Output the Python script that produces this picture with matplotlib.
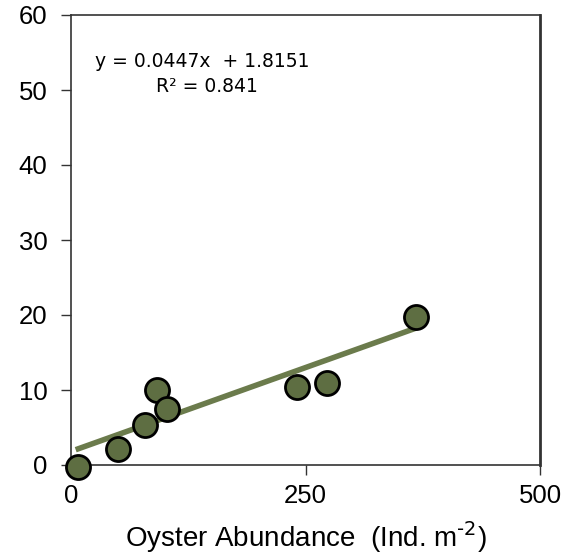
import matplotlib.pyplot as plt
import numpy as np

plt.rcParams['font.family'] = ['Liberation Sans', 'DejaVu Sans']
plt.rcParams['font.size'] = 18.5

# oyster abundance vs response
abundance = [7, 50, 79, 92, 102, 241, 273, 368]
values = [-0.3, 2.1, 5.4, 10.0, 7.5, 10.4, 11.0, 19.8]
slope = 0.0447
intercept = 1.8151
r2 = 0.841

fig = plt.figure(figsize=(5.7, 5.6), dpi=100)
ax = fig.add_axes([71/570, 1-465/560, (540-71)/570, (465-15)/560])

# trend line over the data range
x_fit = np.array([min(abundance) - 2, max(abundance)])
ax.plot(x_fit, slope*x_fit + intercept, color='#6b7b4c', linewidth=4, solid_capstyle='butt', zorder=2)
ax.scatter(abundance, values, s=300, facecolor='#5e6e42', edgecolor='black', linewidth=2, zorder=3, clip_on=False)

ax.text(0.28, 0.897, 'y = %.4fx  + %.4f' % (slope, intercept), transform=ax.transAxes,
        ha='center', va='center', fontsize=13.5, family=['DejaVu Sans'])
ax.text(0.29, 0.842, 'R² = %.3f' % r2, transform=ax.transAxes,
        ha='center', va='center', fontsize=13.5, family=['DejaVu Sans'])

ax.set_xlim(0, 500)
ax.set_ylim(0, 60)
ax.set_xticks([0, 250, 500])
ax.set_yticks(range(0, 61, 10))
ax.tick_params(direction='out', length=7, width=1, color='#333333', labelsize=18.5)
ax.tick_params(axis='x', pad=7)
ax.tick_params(axis='y', pad=10)
for s in ax.spines.values():
    s.set_color('#333333')
    s.set_linewidth(1.2)
ax.spines['right'].set_linewidth(2)
ax.set_xlabel('Oyster Abundance  (Ind. m$^{\\text{-2}}$)', fontsize=20, labelpad=8)

plt.savefig('out.png')
